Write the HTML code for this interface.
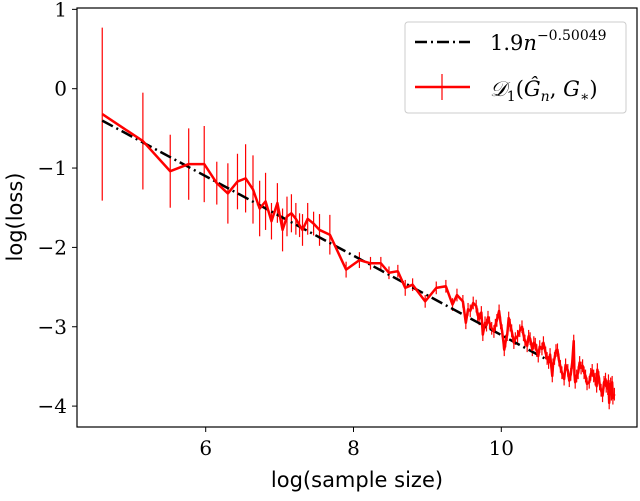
<!DOCTYPE html>
<html><head><meta charset="utf-8"><style>
body{margin:0;background:#fff}
svg text{font-family:"DejaVu Serif","Liberation Serif",serif;}
</style></head><body>
<svg id="chart" width="640" height="496" xmlns="http://www.w3.org/2000/svg">
<rect x="0" y="0" width="640" height="496" fill="#fff"/>
<g id="plot"></g>
<rect x="77" y="8" width="560" height="419" fill="none" stroke="#000" stroke-width="1.2"/>
<g id="ticks"></g>
<text x="357" y="487" text-anchor="middle" font-size="21" style="font-family:'DejaVu Sans','Liberation Sans',sans-serif">log(sample size)</text>
<text transform="translate(22,217) rotate(-90)" text-anchor="middle" font-size="21" style="font-family:'DejaVu Sans','Liberation Sans',sans-serif">log(loss)</text>
<g>
<rect x="405" y="22" width="221" height="91" rx="3" fill="#fff" stroke="#ccc" stroke-width="1"/>
<line x1="415" y1="42" x2="470" y2="42" stroke="#000" stroke-width="2.5" stroke-dasharray="12,4,2,4"/>
<text x="490" y="50" font-size="21">1.9<tspan font-style="italic">n</tspan><tspan font-size="14" dy="-10">−0.50049</tspan></text>
<line x1="415" y1="87" x2="470" y2="87" stroke="#f00" stroke-width="2.5"/>
<line x1="442" y1="74" x2="442" y2="100" stroke="#f00" stroke-width="1.2"/>
<text x="490" y="96" font-size="21"><tspan font-style="italic">𝒟</tspan><tspan font-size="14" dy="5">1</tspan><tspan dy="-5">(</tspan><tspan font-style="italic">Ĝ</tspan><tspan font-size="14" font-style="italic" dy="5">n</tspan><tspan dy="-5">, </tspan><tspan font-style="italic">G</tspan><tspan font-size="14" dy="5">∗</tspan><tspan dy="-5">)</tspan></text>
</g>
</svg>
<script>
const xs=[4.60,5.15,5.52,5.77,5.98,6.15,6.30,6.43,6.54,6.64,6.73,6.81,6.89,6.97,7.04,7.10,7.16,7.22,7.27,7.31,7.38,7.46,7.54,7.68,7.90,8.08,8.23,8.37,8.48,8.60,8.70,8.80,8.97,9.12,9.25,9.34,9.40,9.48,9.52,9.55,9.58,9.62,9.66,9.68,9.70,9.73,9.75,9.78,9.80,9.82,9.84,9.87,9.90,9.92,9.94,9.97,9.99,10.01,10.03,10.04,10.06,10.08,10.10,10.12,10.14,10.17,10.19,10.22,10.25,10.28,10.30,10.32,10.35,10.37,10.39,10.42,10.44,10.46,10.48,10.50,10.52,10.55,10.57,10.60,10.62,10.64,10.66,10.69,10.70,10.72,10.74,10.76,10.78,10.80,10.82,10.85,10.87,10.90,10.92,10.94,10.96,10.98,10.99,11.00,11.02,11.04,11.06,11.08,11.10,11.12,11.14,11.16,11.19,11.21,11.23,11.25,11.27,11.29,11.30,11.32,11.33,11.35,11.37,11.39,11.41,11.42,11.44,11.45,11.46,11.47,11.48,11.49,11.50,11.51,11.53];
const ys=[-0.32,-0.66,-1.04,-0.95,-0.95,-1.19,-1.32,-1.17,-1.13,-1.27,-1.51,-1.42,-1.67,-1.44,-1.78,-1.61,-1.57,-1.64,-1.72,-1.78,-1.64,-1.70,-1.78,-1.84,-2.28,-2.16,-2.20,-2.20,-2.32,-2.30,-2.51,-2.47,-2.68,-2.51,-2.49,-2.72,-2.60,-2.68,-2.95,-2.78,-2.80,-2.70,-2.74,-2.85,-2.90,-2.82,-3.10,-2.95,-2.98,-2.88,-2.95,-3.02,-3.06,-2.98,-2.92,-2.80,-2.95,-3.05,-3.20,-3.29,-3.18,-3.10,-2.89,-2.98,-3.05,-3.20,-3.15,-3.12,-3.05,-3.00,-3.10,-3.18,-3.24,-3.12,-3.15,-3.29,-3.20,-3.22,-3.30,-3.37,-3.25,-3.28,-3.20,-3.33,-3.40,-3.45,-3.35,-3.62,-3.48,-3.40,-3.30,-3.29,-3.42,-3.50,-3.58,-3.66,-3.48,-3.55,-3.68,-3.60,-3.45,-3.18,-3.60,-3.70,-3.62,-3.58,-3.45,-3.52,-3.49,-3.58,-3.62,-3.72,-3.70,-3.60,-3.55,-3.62,-3.66,-3.75,-3.54,-3.64,-3.72,-3.80,-3.87,-3.70,-3.66,-3.75,-3.78,-3.68,-3.96,-3.80,-3.72,-3.85,-3.70,-3.90,-3.85];
const errs=[1.09,0.61,0.46,0.45,0.48,0.27,0.38,0.35,0.43,0.43,0.35,0.36,0.23,0.25,0.27,0.25,0.24,0.20,0.15,0.20,0.20,0.15,0.20,0.25,0.10,0.10,0.08,0.08,0.08,0.08,0.10,0.08,0.08,0.08,0.08,0.08,0.08,0.08,0.08,0.08,0.08,0.08,0.08,0.08,0.08,0.08,0.08,0.08,0.08,0.08,0.08,0.08,0.08,0.08,0.08,0.08,0.08,0.08,0.08,0.08,0.08,0.08,0.08,0.08,0.08,0.08,0.08,0.08,0.08,0.08,0.08,0.08,0.08,0.08,0.08,0.08,0.08,0.08,0.08,0.08,0.08,0.08,0.08,0.08,0.08,0.08,0.08,0.08,0.08,0.08,0.08,0.08,0.08,0.08,0.08,0.08,0.08,0.08,0.08,0.08,0.08,0.08,0.08,0.08,0.08,0.08,0.08,0.08,0.08,0.08,0.08,0.08,0.08,0.08,0.08,0.08,0.08,0.08,0.08,0.08,0.08,0.08,0.08,0.08,0.08,0.08,0.08,0.08,0.08,0.08,0.08,0.08,0.08,0.08,0.08];
const fitIntercept=1.9, fitSlope=-0.50049;
const xTicks=[6,8,10];
const yTicks=[1,0,-1,-2,-3,-4];
const yTickLabels=["1","0","−1","−2","−3","−4"];
const sx=x=>205.7+(x-6)*73.9;
const sy=y=>88.7-y*79.35;
const NS="http://www.w3.org/2000/svg";
const plot=document.getElementById('plot'), tk=document.getElementById('ticks');
function mk(tag,attrs,parent){const e=document.createElementNS(NS,tag);for(const k in attrs)e.setAttribute(k,attrs[k]);parent.appendChild(e);return e;}
xs.forEach((x,i)=>{const e=errs[i]===undefined?0.08:errs[i];const l=mk('line',{x1:sx(x),x2:sx(x),y1:sy(ys[i]+e),y2:sy(ys[i]-e),stroke:'#f00','stroke-width':1.2},plot);

});
const fit=mk('line',{x1:sx(xs[0]),y1:sy(fitIntercept+fitSlope*xs[0]),x2:sx(10.6),y2:sy(fitIntercept+fitSlope*10.6),stroke:'#000','stroke-width':2.5,'stroke-dasharray':'12,4,2,4'},plot);


const pl=mk('polyline',{points:xs.map((x,i)=>sx(x)+','+sy(ys[i])).join(' '),fill:'none',stroke:'#f00','stroke-width':2.5,'stroke-linejoin':'round'},plot);


xTicks.forEach(v=>{mk('line',{x1:sx(v),x2:sx(v),y1:427,y2:432,stroke:'#000'},tk);
const t=mk('text',{x:sx(v),y:455,'text-anchor':'middle','font-size':20},tk);t.textContent=v;

});
yTicks.forEach((v,i)=>{mk('line',{x1:72,x2:77,y1:sy(v),y2:sy(v),stroke:'#000'},tk);
const t=mk('text',{x:67,y:sy(v)+7,'text-anchor':'end','font-size':20},tk);t.textContent=yTickLabels[i];

});
</script>
</body></html>
